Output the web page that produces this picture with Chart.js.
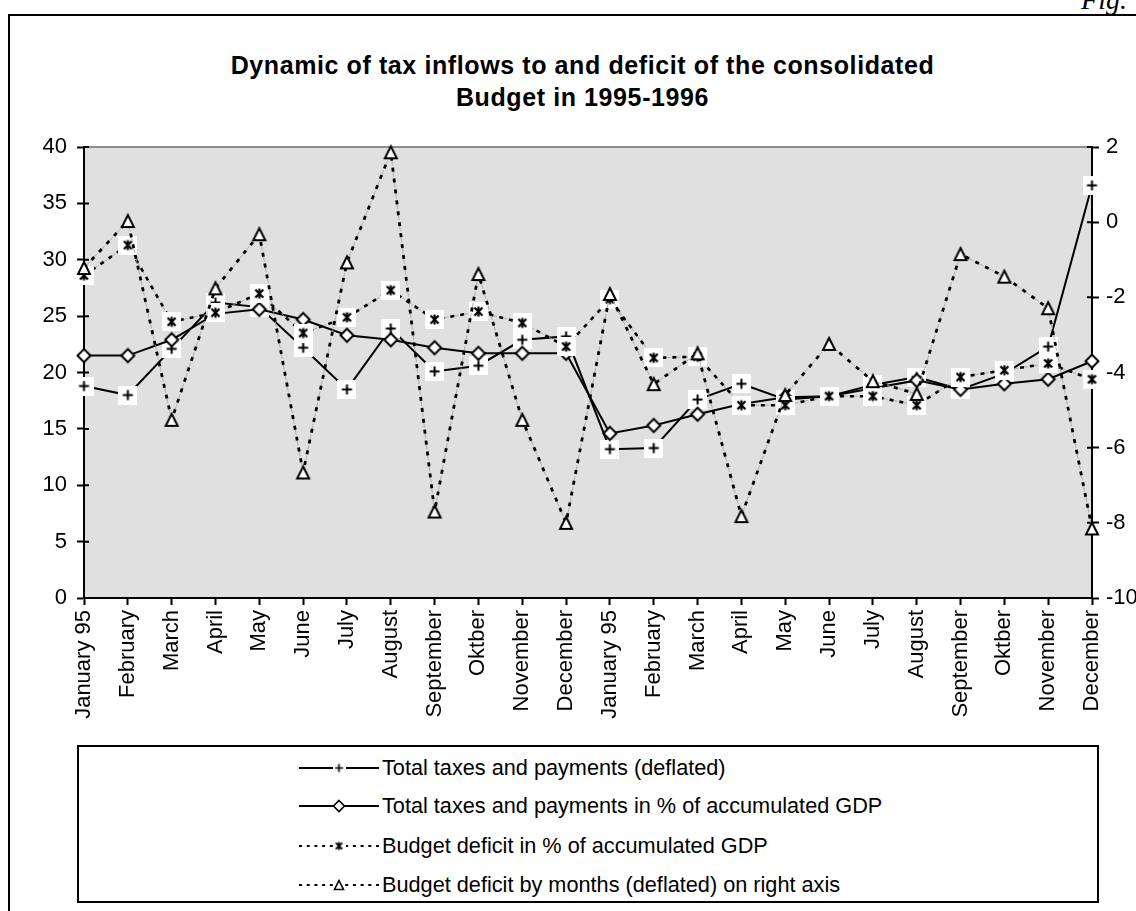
<!DOCTYPE html>
<html>
<head>
<meta charset="utf-8">
<script src="https://cdn.jsdelivr.net/npm/chart.js@4.4.1/dist/chart.umd.min.js"></script>
<style>
  html, body { margin: 0; padding: 0; background: #fff; }
  body { width: 1136px; height: 911px; position: relative; overflow: hidden; font-family: "Liberation Sans", Arial, sans-serif; }
  #frame { position: absolute; left: 8px; top: 14px; width: 1300px; height: 1100px; border: 2px solid #000; box-sizing: border-box; }
  #fig { position: absolute; right: 9px; top: -14px; font-family: "Liberation Serif", "Times New Roman", serif; font-style: italic; font-size: 28px; line-height: 28px; color: #000; }
  #title { position: absolute; left: 0; top: 49px; width: 1165px; text-align: center; font-weight: bold; font-size: 25px; line-height: 32px; letter-spacing: 0.6px; color: #000; }
  #chart { position: absolute; left: 0; top: 120px; }
  #legend { position: absolute; left: 77px; top: 745px; width: 1022px; height: 158px; border: 2px solid #000; box-sizing: border-box; }
  .row { position: absolute; left: 0; height: 30px; width: 100%; }
  .row canvas { position: absolute; left: 220px; top: 5px; }
  .row span { position: absolute; left: 303px; top: 0; line-height: 30px; font-size: 21.7px; color: #000; white-space: nowrap; }
</style>
</head>
<body>
<div id="frame"></div>
<div id="fig">Fig.</div>
<div id="title">Dynamic of tax inflows to and deficit of the consolidated<br>Budget in 1995-1996</div>
<canvas id="chart" width="1136" height="620"></canvas>
<div id="legend"></div>
<script>
// Months of 1995 and 1996
const categories = ['January 95', 'February', 'March', 'April', 'May', 'June', 'July', 'August',
  'September', 'Oktber', 'November', 'December',
  'January 95', 'February', 'March', 'April', 'May', 'June', 'July', 'August',
  'September', 'Oktber', 'November', 'December'];

// Left axis series
const taxesDeflated = [18.8, 18.0, 22.1, 26.2, 25.8, 22.2, 18.5, 23.9, 20.1, 20.6, 22.9, 23.2,
  13.2, 13.3, 17.6, 19.0, 17.6, 17.9, 18.9, 19.6, 18.5, 19.9, 22.3, 36.6];
const taxesPctGdp = [21.5, 21.5, 22.9, 25.2, 25.6, 24.7, 23.3, 22.9, 22.2, 21.7, 21.7, 21.7,
  14.6, 15.3, 16.3, 17.2, 17.8, 17.9, 18.6, 19.3, 18.5, 19.0, 19.4, 21.0];
const deficitPctGdp = [28.6, 31.3, 24.5, 25.3, 27.0, 23.5, 24.9, 27.3, 24.7, 25.4, 24.4, 22.3,
  26.5, 21.3, 21.4, 17.1, 17.1, 17.9, 17.9, 17.1, 19.6, 20.2, 20.8, 19.4];
// Right axis series
const deficitMonthly = [-1.22, 0.03, -5.26, -1.76, -0.32, -6.66, -1.07, 1.86, -7.70, -1.38, -5.26, -8.0,
  -1.91, -4.31, -3.49, -7.82, -4.6, -3.24, -4.23, -4.57, -0.85, -1.45, -2.29, -8.15];

const leftAxisTicks = [0, 5, 10, 15, 20, 25, 30, 35, 40];
const rightAxisTicks = [-10, -8, -6, -4, -2, 0, 2];

const seriesNames = [
  'Total taxes and payments (deflated)',
  'Total taxes and payments in % of accumulated GDP',
  'Budget deficit in % of accumulated GDP',
  'Budget deficit by months (deflated) on right axis'
];

// ---- marker sprites ----
function sprite(size, draw) {
  const c = document.createElement('canvas');
  c.width = size; c.height = size;
  const g = c.getContext('2d');
  draw(g, size);
  return c;
}
function plusMarker(box, arm, lw) {
  return sprite(box, (g, s) => {
    g.fillStyle = '#fff'; g.fillRect(0, 0, s, s);
    g.strokeStyle = '#000'; g.lineWidth = lw;
    const m = s / 2;
    g.beginPath();
    g.moveTo(m, m - arm); g.lineTo(m, m + arm);
    g.moveTo(m - arm, m); g.lineTo(m + arm, m);
    g.stroke();
  });
}
function starMarker(box, arm, lw) {
  return sprite(box, (g, s) => {
    g.fillStyle = '#fff'; g.fillRect(0, 0, s, s);
    g.strokeStyle = '#000'; g.lineWidth = lw;
    const m = s / 2;
    g.beginPath();
    g.moveTo(m, m - arm); g.lineTo(m, m + arm);
    g.moveTo(m - arm * 0.8, m - arm * 0.8); g.lineTo(m + arm * 0.8, m + arm * 0.8);
    g.moveTo(m + arm * 0.8, m - arm * 0.8); g.lineTo(m - arm * 0.8, m + arm * 0.8);
    g.stroke();
  });
}
function diamondMarker(size, r, lw) {
  return sprite(size, (g, s) => {
    const m = s / 2;
    g.beginPath();
    g.moveTo(m, m - r); g.lineTo(m + r, m); g.lineTo(m, m + r); g.lineTo(m - r, m); g.closePath();
    g.fillStyle = '#fff'; g.fill();
    g.strokeStyle = '#000'; g.lineWidth = lw; g.stroke();
  });
}
function triangleMarker(size, h, lw) {
  return sprite(size, (g, s) => {
    const m = s / 2;
    g.beginPath();
    g.moveTo(m, m - h / 2); g.lineTo(m + h / 2, m + h / 2); g.lineTo(m - h / 2, m + h / 2); g.closePath();
    g.fillStyle = '#fff'; g.fill();
    g.strokeStyle = '#000'; g.lineWidth = lw; g.lineJoin = 'miter'; g.stroke();
  });
}

const markers = [
  plusMarker(19, 5, 2),
  diamondMarker(18, 6.5, 2),
  starMarker(19, 5, 2.2),
  triangleMarker(18, 12, 2)
];

const tickFont = { family: 'Liberation Sans', size: 22 };

// grey plot area, top border and inner halves of the axis ticks
const plotDecor = {
  id: 'plotDecor',
  beforeDraw(chart) {
    const { ctx, chartArea: a } = chart;
    ctx.save();
    ctx.fillStyle = '#e0e0e0';
    ctx.fillRect(a.left, a.top, a.right - a.left, a.bottom - a.top);
    ctx.strokeStyle = '#8c8c8c';
    ctx.lineWidth = 2;
    ctx.beginPath();
    ctx.moveTo(a.left, a.top); ctx.lineTo(a.right, a.top);
    ctx.stroke();
    ctx.restore();
  },
  beforeDatasetsDraw(chart) {
    const { ctx, chartArea: a, scales } = chart;
    ctx.save();
    ctx.strokeStyle = '#000';
    ctx.lineWidth = 2;
    ctx.beginPath();
    scales.y.ticks.forEach(t => {
      const y = scales.y.getPixelForValue(t.value);
      ctx.moveTo(a.left, y); ctx.lineTo(a.left + 5, y);
    });
    scales.y2.ticks.forEach(t => {
      const y = scales.y2.getPixelForValue(t.value);
      ctx.moveTo(a.right - 5, y); ctx.lineTo(a.right, y);
    });
    ctx.stroke();
    ctx.restore();
  }
};

const axisBorder = { display: true, color: '#000', width: 2 };

// thin grey strokes that sit in the gaps of a dotted series
function gapStroke(data, axis, dash, offset, order) {
  return {
    data, yAxisID: axis, order,
    borderColor: '#a0a0a0', borderWidth: 0.8, borderDash: dash, borderDashOffset: offset,
    tension: 0, pointRadius: 0, clip: false
  };
}

new Chart(document.getElementById('chart'), {
  type: 'line',
  data: {
    labels: categories,
    datasets: [
      {
        label: seriesNames[0], data: taxesDeflated, yAxisID: 'y', order: 3,
        borderColor: '#000', borderWidth: 2, tension: 0,
        pointStyle: markers[0], pointRadius: 9, clip: false
      },
      {
        label: seriesNames[1], data: taxesPctGdp, yAxisID: 'y', order: 2,
        borderColor: '#000', borderWidth: 2, tension: 0,
        pointStyle: markers[1], pointRadius: 9, clip: false
      },
      {
        label: seriesNames[2], data: deficitPctGdp, yAxisID: 'y', order: 1,
        borderColor: '#000', borderWidth: 2.6, borderDash: [4, 6], tension: 0,
        pointStyle: markers[2], pointRadius: 9, clip: false
      },
      gapStroke(deficitPctGdp, 'y', [4, 6], 6, 1.5),
      {
        label: seriesNames[3], data: deficitMonthly, yAxisID: 'y2', order: 0,
        borderColor: '#000', borderWidth: 2.8, borderDash: [4, 7], tension: 0,
        pointStyle: markers[3], pointRadius: 9, clip: false
      },
      gapStroke(deficitMonthly, 'y2', [5, 6], 7, 0.5)
    ]
  },
  options: {
    responsive: false,
    animation: false,
    events: [],
    layout: { padding: { top: 27, left: 0, right: 0, bottom: 0 } },
    plugins: { legend: { display: false }, tooltip: { enabled: false }, title: { display: false } },
    scales: {
      x: {
        type: 'category', offset: false,
        grid: { display: true, drawOnChartArea: false, drawTicks: true, tickLength: 7, tickWidth: 2, tickColor: '#000' },
        border: axisBorder,
        ticks: { autoSkip: false, maxRotation: 90, minRotation: 90, padding: 5, color: '#000', font: tickFont },
        afterFit(s) { s.height = 142; }
      },
      y: {
        position: 'left', min: 0, max: 40,
        afterBuildTicks(s) { s.ticks = leftAxisTicks.map(v => ({ value: v })); },
        grid: { display: true, drawOnChartArea: false, drawTicks: true, tickLength: 7, tickWidth: 2, tickColor: '#000' },
        border: axisBorder,
        ticks: { padding: 10, color: '#000', font: tickFont },
        afterFit(s) { s.width = 84; }
      },
      y2: {
        position: 'right', min: -10, max: 2,
        afterBuildTicks(s) { s.ticks = rightAxisTicks.map(v => ({ value: v })); },
        grid: { display: true, drawOnChartArea: false, drawTicks: true, tickLength: 7, tickWidth: 2, tickColor: '#000' },
        border: axisBorder,
        ticks: { padding: 7, color: '#000', font: tickFont },
        afterFit(s) { s.width = 44; }
      }
    }
  },
  plugins: [plotDecor]
});

// ---- legend ----
const legendMarkers = [
  plusMarker(13, 4, 1.6),
  diamondMarker(14, 5.5, 1.6),
  starMarker(13, 4, 1.8),
  triangleMarker(14, 9, 1.6)
];
const legendDashed = [false, false, true, true];
const rowCenters = [21, 59, 99, 138];
const legendBox = document.getElementById('legend');
seriesNames.forEach((name, i) => {
  const row = document.createElement('div');
  row.className = 'row';
  row.style.top = (rowCenters[i] - 15) + 'px';
  const c = document.createElement('canvas');
  c.width = 80; c.height = 20;
  const g = c.getContext('2d');
  g.strokeStyle = '#000';
  g.lineWidth = 2;
  if (legendDashed[i]) g.setLineDash([3, 4.7]);
  g.beginPath(); g.moveTo(0, 10); g.lineTo(80, 10); g.stroke();
  const m = legendMarkers[i];
  g.drawImage(m, 40 - m.width / 2, 10 - m.height / 2);
  const t = document.createElement('span');
  t.textContent = name;
  row.appendChild(c);
  row.appendChild(t);
  legendBox.appendChild(row);
});
</script>
</body>
</html>
